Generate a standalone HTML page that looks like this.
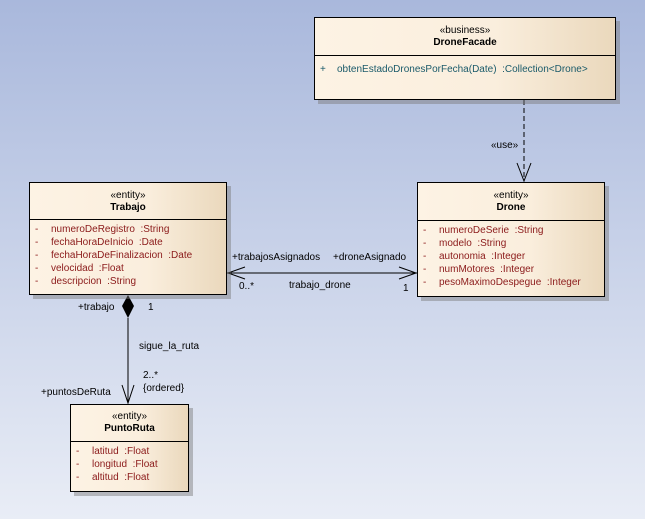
<!DOCTYPE html>
<html><head><meta charset="utf-8"><style>
html,body{margin:0;padding:0}
body{width:645px;height:519px;position:relative;overflow:hidden;background:linear-gradient(#a9b8dc,#e9edf6);font-family:"Liberation Sans",sans-serif;font-size:10px;color:#000}
.box{position:absolute;border:1px solid #000;background:linear-gradient(90deg,#fdf3e4 0%,#faeedd 60%,#ead8bc 100%);box-shadow:4px 4px 0 rgba(120,120,120,.45);box-sizing:border-box}
.hdr{position:absolute;left:0;right:0;top:0;border-bottom:1px solid #000;text-align:center}
.t{position:absolute;white-space:nowrap;line-height:12px}
.a{color:#8b1a1a}
.o{color:#1a5a6a}
b{font-weight:bold}
</style></head><body>
<svg width="645" height="519" style="position:absolute;left:0;top:0">
<line x1="524" y1="100" x2="524" y2="181" stroke="#000" stroke-dasharray="5,3"/>
<polyline points="517,163 524,181 531,163" fill="none" stroke="#000"/>
<line x1="227" y1="273" x2="417" y2="273" stroke="#000"/>
<polyline points="245,267 228,273 245,279" fill="none" stroke="#000"/>
<polyline points="399,267 416,273 399,279" fill="none" stroke="#000"/>
<line x1="128" y1="318" x2="128" y2="403" stroke="#000"/>
<polygon points="128,295 134,306 128,318 122,306" fill="#000"/>
<polyline points="122,385 128,403 134,385" fill="none" stroke="#000"/>
</svg>

<div class="box" style="left:314px;top:17px;width:302px;height:83px">
 <div class="hdr" style="height:37px"><div style="margin-top:7px">«business»</div><div style="margin-top:1px"><b>DroneFacade</b></div></div>
 <div class="t o" style="left:5px;top:46px">+</div>
 <div class="t o" style="left:22px;top:46px">obtenEstadoDronesPorFecha(Date) &nbsp;:Collection&lt;Drone&gt;</div>
</div>

<div class="box" style="left:417px;top:182px;width:188px;height:115px">
 <div class="hdr" style="height:37px"><div style="margin-top:7px">«entity»</div><div style="margin-top:1px"><b>Drone</b></div></div>
 <div class="t a" style="left:5px;top:41px;line-height:13px">-<br>-<br>-<br>-<br>-</div>
 <div class="t a" style="left:21px;top:41px;line-height:13px">numeroDeSerie &nbsp;:String<br>modelo &nbsp;:String<br>autonomia &nbsp;:Integer<br>numMotores &nbsp;:Integer<br>pesoMaximoDespegue &nbsp;:Integer</div>
</div>

<div class="box" style="left:29px;top:182px;width:198px;height:113px">
 <div class="hdr" style="height:36px"><div style="margin-top:7px">«entity»</div><div style="margin-top:1px"><b>Trabajo</b></div></div>
 <div class="t a" style="left:5px;top:40px;line-height:13px">-<br>-<br>-<br>-<br>-</div>
 <div class="t a" style="left:21px;top:40px;line-height:13px">numeroDeRegistro &nbsp;:String<br>fechaHoraDeInicio &nbsp;:Date<br>fechaHoraDeFinalizacion &nbsp;:Date<br>velocidad &nbsp;:Float<br>descripcion &nbsp;:String</div>
</div>

<div class="box" style="left:70px;top:404px;width:119px;height:88px">
 <div class="hdr" style="height:36px"><div style="margin-top:6px">«entity»</div><div style="margin-top:1px"><b>PuntoRuta</b></div></div>
 <div class="t a" style="left:5px;top:40px;line-height:13px">-<br>-<br>-</div>
 <div class="t a" style="left:21px;top:40px;line-height:13px">latitud &nbsp;:Float<br>longitud &nbsp;:Float<br>altitud &nbsp;:Float</div>
</div>

<div class="t" style="left:491px;top:140px">«use»</div>
<div class="t" style="left:232px;top:252px">+trabajosAsignados</div>
<div class="t" style="left:333px;top:252px">+droneAsignado</div>
<div class="t" style="left:239px;top:281px">0..*</div>
<div class="t" style="left:289px;top:280px">trabajo_drone</div>
<div class="t" style="left:403px;top:283px">1</div>
<div class="t" style="left:78px;top:302px">+trabajo</div>
<div class="t" style="left:148px;top:302px">1</div>
<div class="t" style="left:139px;top:341px">sigue_la_ruta</div>
<div class="t" style="left:143px;top:370px">2..*</div>
<div class="t" style="left:143px;top:383px">{ordered}</div>
<div class="t" style="left:41px;top:387px">+puntosDeRuta</div>
</body></html>
